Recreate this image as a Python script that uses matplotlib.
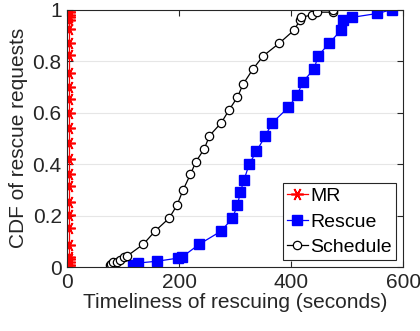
import matplotlib.pyplot as plt
import numpy as np
from matplotlib.ticker import FuncFormatter

plt.rcParams['font.family'] = ['Liberation Sans', 'DejaVu Sans']

# MR: every request answered almost at once
mr_x = [3] * 26
mr_y = [0.0, 0.01, 0.02, 0.03, 0.04, 0.085, 0.151, 0.202, 0.252, 0.315,
        0.361, 0.419, 0.482, 0.540, 0.598, 0.652, 0.699, 0.753, 0.823,
        0.870, 0.924, 0.96, 0.97, 0.98, 0.99, 1.0]

rescue_x = [118, 127, 161, 198, 205, 236, 275, 295, 304, 309, 316, 325, 338,
            354, 366, 395, 411, 421, 441, 448, 468, 489, 493, 509, 554, 580]
rescue_y = [0.008, 0.016, 0.023, 0.035, 0.039, 0.089, 0.14, 0.19, 0.24, 0.29,
            0.34, 0.40, 0.45, 0.51, 0.56, 0.62, 0.67, 0.72, 0.77, 0.82, 0.87,
            0.92, 0.96, 0.97, 0.985, 1.0]

sched_x = [77, 79, 82, 89, 95, 102, 107, 136, 157, 182, 196, 207, 220, 230,
           245, 254, 275, 289, 304, 314, 332, 350, 379, 405, 416, 418, 438,
           446, 475, 475]
sched_y = [0.008, 0.012, 0.019, 0.02, 0.027, 0.039, 0.043, 0.089, 0.14, 0.19,
           0.24, 0.30, 0.36, 0.41, 0.46, 0.51, 0.56, 0.61, 0.66, 0.71, 0.77,
           0.82, 0.87, 0.92, 0.96, 0.97, 0.98, 0.99, 0.99, 1.0]

fig = plt.figure(figsize=(4.2, 3.31), dpi=100)
ax = fig.add_axes([0.16, 0.193, 0.8, 0.778])

ax.plot(mr_x, mr_y, '-', marker=(6, 2, 90), color='#ff0000', lw=0.9, ms=9,
        mew=1.2, label='MR')
ax.plot(rescue_x, rescue_y, '-s', color='#0000ff', mfc='#0000ff', lw=0.9,
        ms=7, label='Rescue')
ax.plot(sched_x, sched_y, '-o', color='black', mfc='white', lw=0.9, ms=6,
        mew=0.9, label='Schedule')

ax.set_xlim(0, 600)
ax.set_ylim(0, 1)
ax.set_xticks([0, 200, 400, 600])
ax.set_yticks(np.arange(0, 1.01, 0.2))
ax.yaxis.set_major_formatter(FuncFormatter(lambda v, p: '%g' % round(v, 1)))
ax.yaxis.grid(True, color='#e6e6e6', lw=0.8)
ax.set_axisbelow(True)
ax.tick_params(direction='in', top=True, right=True, labelsize=15,
               colors='#262626', length=4, pad=4)
for s in ax.spines.values():
    s.set_color('#262626')
    s.set_linewidth(0.8)

ax.set_xlabel('Timeliness of rescuing (seconds)', fontsize=15, color='#262626',
              labelpad=1)
ax.set_ylabel('CDF of rescue requests', fontsize=15, color='#262626',
              labelpad=3)

leg = ax.legend(loc='lower right', fontsize=14, handlelength=1.05,
                handletextpad=0.15, borderpad=0.22, labelspacing=0.4,
                borderaxespad=0.35, fancybox=False, framealpha=1,
                edgecolor='#262626', markerscale=1.0)
leg.get_frame().set_linewidth(0.8)

fig.savefig('out.png', dpi=100)
